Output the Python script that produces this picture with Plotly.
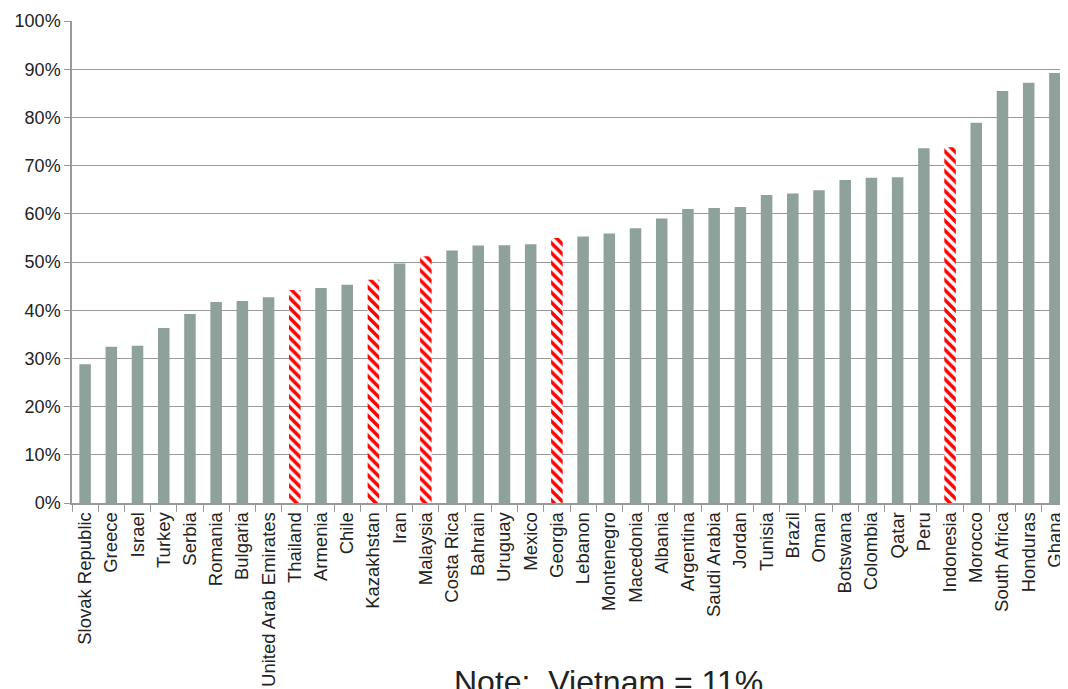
import plotly.graph_objects as go

countries = ["Slovak Republic", "Greece", "Israel", "Turkey", "Serbia", "Romania", "Bulgaria",
             "United Arab Emirates", "Thailand", "Armenia", "Chile", "Kazakhstan", "Iran", "Malaysia",
             "Costa Rica", "Bahrain", "Uruguay", "Mexico", "Georgia", "Lebanon", "Montenegro",
             "Macedonia", "Albania", "Argentina", "Saudi Arabia", "Jordan", "Tunisia", "Brazil",
             "Oman", "Botswana", "Colombia", "Qatar", "Peru", "Indonesia", "Morocco", "South Africa",
             "Honduras", "Ghana"]
values = [28.8, 32.4, 32.6, 36.3, 39.2, 41.7, 41.9, 42.7, 44.2, 44.6, 45.3, 46.3, 49.7, 51.2,
          52.4, 53.4, 53.5, 53.7, 55.0, 55.3, 55.9, 57.0, 59.0, 61.0, 61.2, 61.4, 63.9, 64.2,
          64.9, 67.0, 67.5, 67.6, 73.6, 73.8, 78.9, 85.5, 87.2, 89.2]
highlighted = ["Thailand", "Kazakhstan", "Malaysia", "Georgia", "Indonesia"]
y_ticks = list(range(0, 101, 10))
note_text = "Note:  Vietnam = 11%"

GRAY = "#8ea29b"
plain_x = [c for c in countries if c not in highlighted]
plain_y = [v for c, v in zip(countries, values) if c not in highlighted]
hatch_x = [c for c in countries if c in highlighted]
hatch_y = [v for c, v in zip(countries, values) if c in highlighted]

fig = go.Figure()
fig.add_trace(go.Bar(x=plain_x, y=plain_y, width=0.44,
                     marker=dict(color=GRAY, line=dict(width=0))))
fig.add_trace(go.Bar(x=hatch_x, y=hatch_y, width=0.44,
                     marker=dict(color="white", line=dict(width=0),
                                 pattern=dict(shape="\\", fgcolor="#ff0000", bgcolor="white",
                                              fgopacity=1, size=7, solidity=0.5))))

W, H = 1060, 681
L, R, T, B = 64, 0, 13, 186
fig.update_layout(
    width=W, height=H,
    margin=dict(l=L, r=R, t=T, b=B, autoexpand=False),
    plot_bgcolor="white", paper_bgcolor="white",
    font=dict(family="Liberation Sans, Arial, sans-serif", size=18, color="#222222"),
    showlegend=False,
    barmode="overlay",
)
fig.update_xaxes(
    type="category", categoryorder="array", categoryarray=countries,
    tickangle=-90, tickson="boundaries", automargin=False,
    ticks="outside", ticklen=7, tickcolor="#999999",
    showline=True, linecolor="#999999", linewidth=1.5,
    showgrid=False, tickfont=dict(size=18.5),
)
fig.update_yaxes(
    range=[0, 100], tickvals=y_ticks, ticktext=[f"{v}%" for v in y_ticks],
    ticks="outside", ticklen=6, tickcolor="#999999", automargin=False,
    showline=True, linecolor="#999999", linewidth=1.5,
    showgrid=True, gridcolor="#9a9a9a", gridwidth=1,
    zeroline=False, tickfont=dict(size=18),
)
plot_w = W - L - R
plot_h = H - T - B
fig.add_annotation(
    text=note_text, xref="paper", yref="paper",
    x=(600 - L) / plot_w, y=-(654 - (H - B)) / plot_h,
    xanchor="center", yanchor="top", showarrow=False,
    font=dict(size=32, color="#222222"),
)

fig.write_html("out.html")
